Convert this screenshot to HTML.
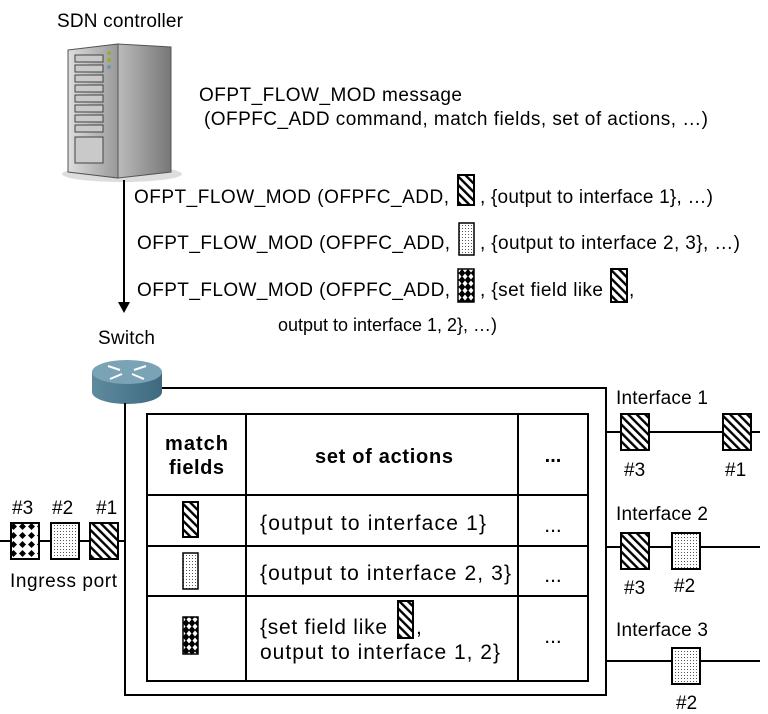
<!DOCTYPE html>
<html><head><meta charset="utf-8"><style>
html,body{margin:0;padding:0;background:#fff;}
svg{display:block;}
.a{font-family:"Liberation Sans",sans-serif;font-size:19px;fill:#000;}
.k{font-family:"Liberation Sans","Noto Sans CJK KR",sans-serif;font-size:21px;fill:#000;}
.b{font-family:"Liberation Sans","Noto Sans CJK KR",sans-serif;font-size:20px;font-weight:bold;fill:#000;}
</style></head><body>
<svg width="768" height="714" viewBox="0 0 768 714" xmlns="http://www.w3.org/2000/svg">
<defs>
<pattern id="h" width="6" height="6" patternUnits="userSpaceOnUse" patternTransform="rotate(-45)">
<rect width="6" height="6" fill="#fff"/><rect width="2.4" height="6" fill="#000"/></pattern>
<pattern id="d" width="3" height="3" patternUnits="userSpaceOnUse">
<rect width="3" height="3" fill="#fff"/><rect width="1" height="1" fill="#555"/></pattern>
<pattern id="c" width="9" height="9" patternUnits="userSpaceOnUse">
<rect width="9" height="9" fill="#fff"/><path d="M4.5 1L8 4.5 4.5 8 1 4.5Z" fill="#000"/></pattern>
<pattern id="cs" width="6" height="7" patternUnits="userSpaceOnUse">
<rect width="6" height="7" fill="#000"/><path d="M3 0.5L5.5 3.5 3 6.5 0.5 3.5Z" fill="#fff"/></pattern>
<linearGradient id="sv" x1="0" x2="1"><stop offset="0" stop-color="#bbb"/><stop offset="1" stop-color="#777"/></linearGradient>
<linearGradient id="sf" x1="0" x2="1"><stop offset="0" stop-color="#ddd"/><stop offset="1" stop-color="#999"/></linearGradient>
<linearGradient id="rt" x1="0" x2="1"><stop offset="0" stop-color="#5f8a9e"/><stop offset="1" stop-color="#3e6a80"/></linearGradient>
</defs>

<text class="a" x="57" y="27" textLength="126">SDN controller</text>
<ellipse cx="122" cy="174" rx="60" ry="8" fill="#ddd"/>
<path d="M68 50 L118 44 L118 178 L68 172 Z" fill="url(#sf)" stroke="#555"/>
<path d="M118 44 L171 47 L171 172 L118 178 Z" fill="url(#sv)" stroke="#555"/>
<g stroke="#444" fill="#c9c9c9">
<rect x="75" y="55" width="28" height="7"/><rect x="75" y="65" width="28" height="7"/><rect x="75" y="75" width="28" height="7"/><rect x="75" y="85" width="28" height="7"/><rect x="75" y="95" width="28" height="7"/><rect x="75" y="105" width="28" height="7"/><rect x="75" y="115" width="28" height="7"/><rect x="75" y="125" width="28" height="7"/><rect x="75" y="137" width="28" height="26"/></g>
<circle cx="109" cy="53" r="2" fill="#9a3"/><circle cx="109" cy="60" r="2" fill="#9a3"/><circle cx="109" cy="67" r="2" fill="#69a"/>

<text class="a" x="199" y="101" textLength="263">OFPT_FLOW_MOD message</text>
<text class="a" x="204" y="125" textLength="504">(OFPFC_ADD command, match fields, set of actions, …)</text>

<line x1="124" y1="180" x2="124" y2="304" stroke="#000" stroke-width="2"/>
<path d="M118 302 L130 302 L124 313 Z" fill="#000"/>

<text class="a" x="134" y="203" textLength="315">OFPT_FLOW_MOD (OFPFC_ADD,</text>
<rect x="458" y="175" width="16" height="30" fill="url(#h)" stroke="#000" stroke-width="2"/>
<text class="a" x="480" y="203" textLength="233">, {output to interface 1}, …)</text>

<text class="a" x="137" y="249" textLength="313">OFPT_FLOW_MOD (OFPFC_ADD,</text>
<rect x="459" y="223" width="15" height="32" fill="url(#d)" stroke="#000" stroke-width="1.5"/>
<text class="a" x="480" y="249" textLength="260">, {output to interface 2, 3}, …)</text>

<text class="a" x="137" y="296" textLength="313">OFPT_FLOW_MOD (OFPFC_ADD,</text>
<rect x="458" y="269" width="16" height="33" fill="url(#cs)" stroke="#000" stroke-width="1.5"/>
<text class="a" x="480" y="296" textLength="123">, {set field like</text>
<rect x="611" y="269" width="16" height="33" fill="url(#h)" stroke="#000" stroke-width="2"/>
<text class="a" x="629" y="296">,</text>
<text class="a" x="278" y="331" style="font-size:18px" textLength="219">output to interface 1, 2}, …)</text>

<text class="a" x="98" y="344" textLength="57">Switch</text>
<path d="M92 372 L92 392 A35 12 0 0 0 162 392 L162 372 Z" fill="url(#rt)"/>
<ellipse cx="127" cy="372" rx="35" ry="12" fill="#7aa3b6"/>
<g stroke="#fff" stroke-width="2" fill="none"><path d="M108 366 L120 370"/><path d="M146 366 L134 370"/><path d="M110 379 L122 374"/><path d="M144 379 L132 374"/></g>

<path d="M162 388 L606 388 L606 695 L125 695 L125 403" fill="none" stroke="#000" stroke-width="2"/>

<g stroke="#000" stroke-width="2" fill="none">
<rect x="147" y="414" width="441" height="267"/>
<line x1="246" y1="414" x2="246" y2="681"/><line x1="518" y1="414" x2="518" y2="681"/>
<line x1="147" y1="495" x2="588" y2="495"/><line x1="147" y1="546" x2="588" y2="546"/><line x1="147" y1="596" x2="588" y2="596"/>
</g>
<text class="b" x="165" y="450" textLength="63">match</text>
<text class="b" x="169" y="474" textLength="55">fields</text>
<text class="b" x="315" y="463" textLength="138">set of actions</text>
<text class="b" x="553" y="462" text-anchor="middle">...</text>

<rect x="183" y="502" width="15" height="35" fill="url(#h)" stroke="#000" stroke-width="2"/>
<rect x="183" y="553" width="15" height="36" fill="url(#d)" stroke="#000" stroke-width="1.5"/>
<rect x="183" y="617" width="15" height="37" fill="url(#cs)" stroke="#000" stroke-width="1.5"/>
<text class="k" x="260" y="530" textLength="226">{output to interface 1}</text>
<text class="k" x="260" y="580" textLength="251">{output to interface 2, 3}</text>
<text class="k" x="260" y="634" textLength="127">{set field like</text>
<rect x="398" y="601" width="15" height="37" fill="url(#h)" stroke="#000" stroke-width="2"/>
<text class="k" x="416" y="634">,</text>
<text class="k" x="260" y="659" textLength="240">output to interface 1, 2}</text>
<text class="k" x="553" y="532" text-anchor="middle">...</text>
<text class="k" x="553" y="582" text-anchor="middle">...</text>
<text class="k" x="553" y="643" text-anchor="middle">...</text>

<line x1="0" y1="541" x2="125" y2="541" stroke="#000" stroke-width="2"/>
<rect x="11" y="523" width="28" height="36" fill="url(#c)" stroke="#000" stroke-width="2"/>
<rect x="51" y="523" width="28" height="36" fill="url(#d)" stroke="#000" stroke-width="2"/>
<rect x="90" y="523" width="28" height="36" fill="url(#h)" stroke="#000" stroke-width="2"/>
<text class="a" x="12" y="514">#3</text><text class="a" x="52" y="514">#2</text><text class="a" x="96" y="514">#1</text>
<text class="a" x="10" y="587" textLength="107">Ingress port</text>

<g stroke="#000" stroke-width="2">
<line x1="606" y1="432" x2="760" y2="432"/><line x1="606" y1="547" x2="760" y2="547"/><line x1="606" y1="661" x2="760" y2="661"/></g>
<text class="a" x="616" y="404" textLength="92">Interface 1</text>
<rect x="621" y="414" width="28" height="36" fill="url(#h)" stroke="#000" stroke-width="2"/>
<rect x="723" y="414" width="28" height="36" fill="url(#h)" stroke="#000" stroke-width="2"/>
<text class="a" x="624" y="476">#3</text><text class="a" x="725" y="476">#1</text>
<text class="a" x="616" y="520" textLength="92">Interface 2</text>
<rect x="621" y="533" width="28" height="36" fill="url(#h)" stroke="#000" stroke-width="2"/>
<rect x="672" y="533" width="28" height="36" fill="url(#d)" stroke="#000" stroke-width="2"/>
<text class="a" x="624" y="594">#3</text><text class="a" x="674" y="592">#2</text>
<text class="a" x="616" y="636" textLength="92">Interface 3</text>
<rect x="672" y="648" width="28" height="36" fill="url(#d)" stroke="#000" stroke-width="2"/>
<text class="a" x="676" y="709">#2</text>
</svg>
</body></html>
